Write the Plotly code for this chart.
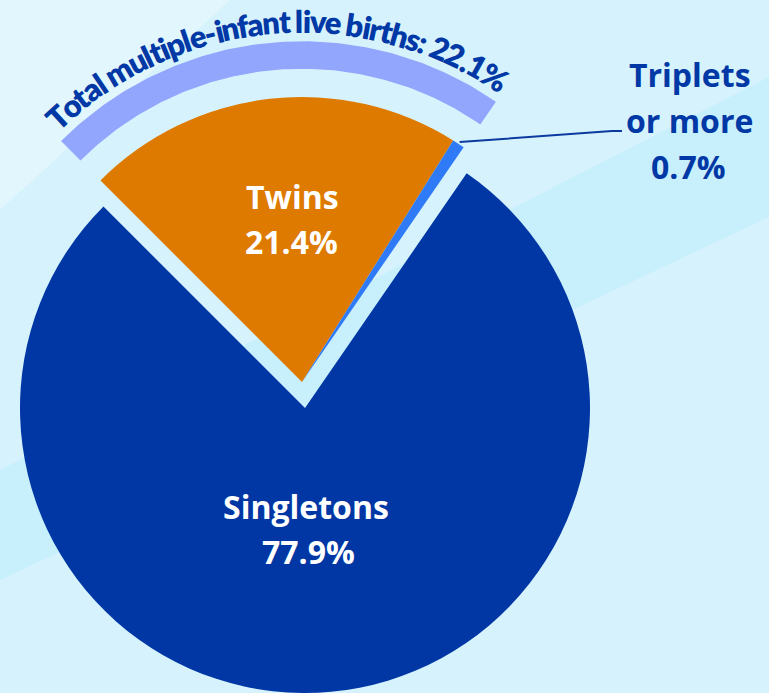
import numpy as np
import plotly.graph_objects as go

# ---------------- data ----------------
categories = ["Twins", "Triplets or more", "Singletons"]
values = [21.4, 0.7, 77.9]
label_lines = [["Twins", "21.4%"], ["Triplets", "or more", "0.7%"], ["Singletons", "77.9%"]]
slice_colors = ["#DE7A00", "#2F7BF7", "#0037A4"]
multiple_total = round(values[0] + values[1], 1)
arc_title = f"Total multiple-infant live births: {multiple_total}%"

# ---------------- layout geometry (pixels) ----------------
W, H = 769, 693
R = 285
main_c = (305, 408)     # singletons pie centre
pulled_c = (302, 382)   # pulled-out multiple-birth wedge centre
rotation = -45
TEXT_DARK = "#0038A5"
CLEAR = "rgba(0,0,0,0)"
FONT = "Open Sans"
ARC_FONT = "Lato"


def domain(c):
    x0 = max(0, (c[0] - R) / W)
    x1 = min(1, (c[0] + R) / W)
    y0 = max(0, 1 - (c[1] + R) / H)
    y1 = min(1, 1 - (c[1] - R) / H)
    return dict(x=[x0, x1], y=[y0, y1])


fig = go.Figure()

# arc band above the multiple-birth wedge
total = sum(values)
a0 = np.deg2rad(rotation)
a1 = np.deg2rad(rotation + 360 * (values[0] + values[1]) / total)
th = np.linspace(a0, a1, 120)
r_out, r_in = 340, 314
ax = np.concatenate([pulled_c[0] + r_out * np.sin(th), pulled_c[0] + r_in * np.sin(th[::-1])])
ay = np.concatenate([pulled_c[1] - r_out * np.cos(th), pulled_c[1] - r_in * np.cos(th[::-1])])
fig.add_trace(go.Scatter(x=ax, y=ay, mode="lines", fill="toself", fillcolor="#92A6FD",
                         line=dict(width=1.5, color="#92A6FD"), hoverinfo="skip", showlegend=False))

# singletons pie
fig.add_trace(go.Pie(labels=categories, values=values, sort=False, direction="clockwise",
                     rotation=rotation, textinfo="none", showlegend=False,
                     marker=dict(colors=[CLEAR, CLEAR, slice_colors[2]], line=dict(width=0)),
                     domain=domain(main_c)))
# pulled multiple-birth wedge
fig.add_trace(go.Pie(labels=categories, values=values, sort=False, direction="clockwise",
                     rotation=rotation, textinfo="none", showlegend=False,
                     marker=dict(colors=[slice_colors[0], slice_colors[1], CLEAR], line=dict(width=0)),
                     domain=domain(pulled_c)))

annotations = []

# curved title text, letter by letter
wmap = {"T": .58, "o": .57, "t": .36, "a": .52, "l": .26, " ": .19, "m": .85, "u": .56,
        "i": .26, "p": .56, "e": .53, "-": .35, "n": .56, "f": .33, "v": .51, "b": .56,
        "r": .39, "h": .56, "s": .43, ":": .26, "2": .58, ".": .26, "1": .58, "%": .80}
adv = np.array([wmap.get(c, .52) for c in arc_title])
centers = np.cumsum(adv) - adv / 2
span_nat = centers[-1] - centers[0]
mid_nat = (centers[0] + centers[-1]) / 2
target_span = np.deg2rad(75)
mid_ang = (a0 + a1) / 2
r_text = 361
for ch, cpos in zip(arc_title, centers):
    if ch == " ":
        continue
    ang = mid_ang + (cpos - mid_nat) / span_nat * target_span
    annotations.append(dict(x=pulled_c[0] + r_text * np.sin(ang), y=pulled_c[1] - r_text * np.cos(ang),
                            xref="x", yref="y", text=ch, showarrow=False,
                            textangle=float(np.rad2deg(ang)), xanchor="center", yanchor="middle",
                            font=dict(family=ARC_FONT, size=31, color=TEXT_DARK, weight=800)))

# slice labels (one annotation per line)
label_pos = [
    [(292, 196), (291, 241)],
    [(690, 74), (689, 120), (688, 166)],
    [(306, 506), (308, 551)],
]
label_col = ["white", TEXT_DARK, "white"]
for lines, poss, col in zip(label_lines, label_pos, label_col):
    for txt, (px, py) in zip(lines, poss):
        annotations.append(dict(x=px, y=py, xref="x", yref="y", text=txt, showarrow=False,
                                xanchor="center", yanchor="middle",
                                font=dict(family=FONT, size=32, color=col, weight="bold")))

# leader line to triplets slice
trip_mid = np.deg2rad(rotation + 360 * (values[0] + values[1] / 2) / total)
lx0 = pulled_c[0] + (R + 2) * np.sin(trip_mid)
ly0 = pulled_c[1] - (R + 2) * np.cos(trip_mid)

shapes = [
    dict(type="path", path="M 0 0 L 230 0 L 0 210 Z", fillcolor="#E2F6FE", line=dict(width=0),
         layer="below", xref="x", yref="y"),
    dict(type="path", path="M 0 470 L 769 77 L 769 217 L 0 580 Z", fillcolor="#C8EFFC",
         line=dict(width=0), layer="below", xref="x", yref="y"),
    dict(type="path", path=f"M {lx0:.1f} {ly0:.1f} L 612 131 L 622 131", line=dict(color="#0B3AA0", width=2),
         xref="x", yref="y"),
]

fig.update_layout(
    width=W, height=H, margin=dict(l=0, r=0, t=0, b=0),
    paper_bgcolor="#D6F2FD", plot_bgcolor="rgba(0,0,0,0)",
    xaxis=dict(range=[0, W], visible=False, fixedrange=True),
    yaxis=dict(range=[H, 0], visible=False, fixedrange=True),
    annotations=annotations, shapes=shapes, showlegend=False,
)

fig.write_html("out.html", config={"displayModeBar": False},
               post_script="document.body.style.margin='0';document.body.style.overflow='hidden';")
